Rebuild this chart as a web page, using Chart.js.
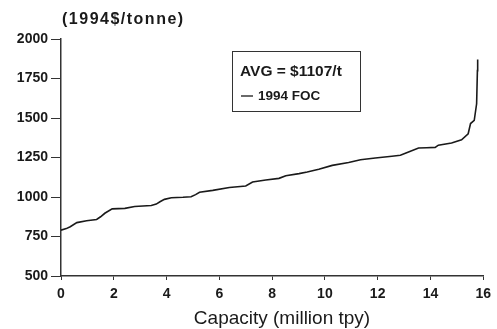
<!DOCTYPE html>
<html>
<head>
<meta charset="utf-8">
<script src="https://cdn.jsdelivr.net/npm/chart.js@4"></script>
<style>
  html, body { margin: 0; padding: 0; background: #fff; }
  #wrap { width: 497px; height: 329px; position: relative; }
</style>
</head>
<body>
<div id="wrap"><canvas id="chart"></canvas></div>
<script>
// capacity (million tpy) vs 1994 FOC cost curve
const capacity = [
  0, 0.2, 0.35, 0.6, 0.97, 1.35, 1.5, 1.66, 1.94, 2.42, 2.79, 3.42, 3.61, 3.75,
  3.92, 4.18, 4.62, 4.93, 5.1, 5.25, 5.75, 6.38, 7.0, 7.26, 7.76, 8.26, 8.52,
  9.02, 9.33, 9.77, 10.28, 10.9, 11.35, 11.91, 12.54, 12.86, 13.17, 13.55,
  13.86, 14.18, 14.3, 14.8, 15.18, 15.43, 15.52, 15.66, 15.75, 15.78, 15.79,
];
const cost = [
  790, 800, 812, 838, 850, 858, 875, 897, 925, 928, 940, 946, 955, 970,
  985, 995, 998, 1002, 1015, 1030, 1042, 1060, 1070, 1095, 1108, 1118, 1135,
  1148, 1158, 1175, 1200, 1218, 1236, 1247, 1258, 1264, 1285, 1310,
  1312, 1314, 1328, 1342, 1362, 1400, 1465, 1485, 1590, 1800, 1870,
];

const yUnitLabel = '(1994$/tonne)';
const xAxisLabel = 'Capacity (million tpy)';
const avgLabel = 'AVG = $1107/t';
const seriesLabel = '1994 FOC';

const ink = '#1a1a1a';

const textPlugin = {
  id: 'textPlugin',
  afterDraw(chart) {
    const { ctx, chartArea } = chart;
    ctx.save();
    ctx.fillStyle = ink;
    ctx.textBaseline = 'middle';

    // unit label above the y axis
    ctx.font = 'bold 16px "Liberation Sans", Arial, sans-serif';
    ctx.letterSpacing = '1.5px';
    ctx.textAlign = 'left';
    ctx.fillText(yUnitLabel, chartArea.left + 1, 20);
    ctx.letterSpacing = '0px';

    // x axis title
    ctx.font = '19px "Liberation Sans", Arial, sans-serif';
    ctx.textAlign = 'center';
    ctx.fillText(xAxisLabel, 282, 319);

    // legend box
    ctx.strokeStyle = '#333';
    ctx.lineWidth = 1;
    ctx.strokeRect(232.5, 51.5, 128, 60);
    ctx.textAlign = 'left';
    ctx.font = 'bold 15.5px "Liberation Sans", Arial, sans-serif';
    ctx.fillText(avgLabel, 240, 72);
    ctx.font = 'bold 13.5px "Liberation Sans", Arial, sans-serif';
    ctx.fillText(seriesLabel, 258, 96);
    ctx.strokeStyle = ink;
    ctx.lineWidth = 1.3;
    ctx.beginPath();
    ctx.moveTo(241, 96);
    ctx.lineTo(253, 96);
    ctx.stroke();
    ctx.restore();
  },
};

const tickFont = { family: '"Liberation Sans", Arial, sans-serif', size: 14, weight: 'bold' };

new Chart(document.getElementById('chart'), {
  type: 'line',
  data: {
    labels: capacity,
    datasets: [
      {
        label: seriesLabel,
        data: capacity.map((x, i) => ({ x, y: cost[i] })),
        borderColor: ink,
        borderWidth: 1.6,
        pointRadius: 0,
        tension: 0,
        fill: false,
      },
    ],
  },
  options: {
    responsive: true,
    maintainAspectRatio: false,
    animation: false,
    layout: { padding: { top: 39, right: 12, left: 0, bottom: 0 } },
    plugins: {
      legend: { display: false },
      tooltip: { enabled: false },
    },
    scales: {
      x: {
        type: 'linear',
        min: 0,
        max: 16,
        afterFit: (scale) => { scale.height = 53; },
        ticks: {
          stepSize: 2,
          color: ink,
          padding: 6,
          font: tickFont,
          callback: (value) => String(value),
        },
        grid: { drawOnChartArea: false, tickLength: 4, color: '#333' },
        border: { color: '#333', width: 1.5 },
      },
      y: {
        min: 500,
        max: 2000,
        afterFit: (scale) => { scale.width = 61; },
        ticks: {
          stepSize: 250,
          color: ink,
          padding: 3,
          font: tickFont,
          callback: (value) => String(value),
        },
        grid: { drawOnChartArea: false, tickLength: 10, color: '#333' },
        border: { color: '#333', width: 1.5 },
      },
    },
  },
  plugins: [textPlugin],
});
</script>
</body>
</html>
